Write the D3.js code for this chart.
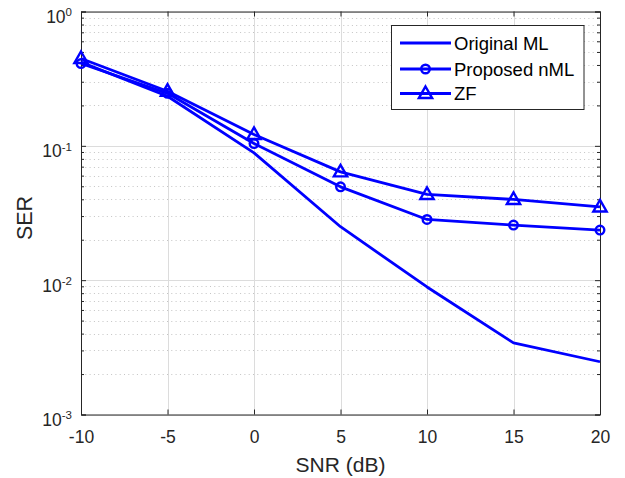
<!DOCTYPE html>
<html>
<head>
<meta charset="utf-8">
<script src="https://cdn.jsdelivr.net/npm/d3@7"></script>
<style>
  html, body { margin: 0; padding: 0; background: #fff; }
  svg { display: block; font-family: "Liberation Sans", Arial, Helvetica, sans-serif; }
</style>
</head>
<body>
<svg id="chart" width="625" height="478"></svg>
<script>
// SNR sweep (dB)
const snr = [-10, -5, 0, 5, 10, 15, 20];
// Symbol error rate for each detector
const serOriginalML = [0.42, 0.234, 0.0887, 0.0250, 0.0089, 0.00341, 0.00247];
const serProposedNML = [0.41, 0.246, 0.104, 0.0495, 0.0283, 0.0257, 0.0236];
const serZF = [0.447, 0.255, 0.1216, 0.064, 0.0435, 0.0399, 0.0351];
const seriesNames = ["Original ML", "Proposed nML", "ZF"];
const xTicks = [-10, -5, 0, 5, 10, 15, 20];
const yExponents = [0, -1, -2, -3];

const svg = d3.select("#chart");
const margin = { left: 81, right: 25, top: 11.5, bottom: 63.5 };
const W = 625, H = 478;
const x0 = margin.left, x1 = W - margin.right;
const y0 = H - margin.bottom, y1 = margin.top;

const x = d3.scaleLinear().domain([-10, 20]).range([x0, x1]);
const y = d3.scaleLog().domain([1e-3, 1]).range([y0, y1]);

const axisColor = "#262626";
const blue = "#0000ff";
const tickFont = 17.5;

// minor log values
const minor = [];
for (let e = -3; e < 0; e++) for (let m = 2; m <= 9; m++) minor.push(m * Math.pow(10, e));
const major = yExponents.map(e => Math.pow(10, e));

const grid = svg.append("g");
// minor dotted grid
grid.selectAll("line.minor").data(minor).join("line")
  .attr("x1", x0).attr("x2", x1)
  .attr("y1", d => Math.round(y(d)) + 0.5).attr("y2", d => Math.round(y(d)) + 0.5)
  .attr("stroke", "#c4c4c4").attr("stroke-width", 1).attr("stroke-dasharray", "1,3.3");
// major solid grid
grid.selectAll("line.majy").data(major).join("line")
  .attr("x1", x0).attr("x2", x1)
  .attr("y1", d => Math.round(y(d)) + 0.5).attr("y2", d => Math.round(y(d)) + 0.5)
  .attr("stroke", "#dcdcdc").attr("stroke-width", 1);
grid.selectAll("line.majx").data(xTicks).join("line")
  .attr("x1", d => Math.round(x(d)) + 0.5).attr("x2", d => Math.round(x(d)) + 0.5)
  .attr("y1", y0).attr("y2", y1)
  .attr("stroke", "#dcdcdc").attr("stroke-width", 1);

// axes (box with ticks on all sides)
const xb = d3.axisBottom(x).tickValues(xTicks).tickSize(-5).tickFormat(d => d);
const xt = d3.axisTop(x).tickValues(xTicks).tickSize(-5).tickFormat("");
const yl = d3.axisLeft(y).tickValues(major).tickSize(-5).tickFormat("");
const yr = d3.axisRight(y).tickValues(major).tickSize(-5).tickFormat("");
const ylm = d3.axisLeft(y).tickValues(minor).tickSize(-3).tickFormat("");
const yrm = d3.axisRight(y).tickValues(minor).tickSize(-3).tickFormat("");

function styleAxis(g) {
  g.selectAll("path.domain").attr("stroke", axisColor).attr("stroke-width", 1);
  g.selectAll(".tick line").attr("stroke", axisColor);
}
const gx = svg.append("g").attr("transform", `translate(0,${y0})`).call(xb).call(styleAxis);
gx.attr("font-size", tickFont).attr("font-family", "Liberation Sans, Arial, sans-serif");
gx.selectAll(".tick text").attr("fill", axisColor).attr("y", 28).attr("dy", 0);
svg.append("g").attr("transform", `translate(0,${y1})`).call(xt).call(styleAxis);
svg.append("g").attr("transform", `translate(${x0},0)`).call(ylm).call(styleAxis).select("path.domain").remove();
svg.append("g").attr("transform", `translate(${x1},0)`).call(yrm).call(styleAxis).select("path.domain").remove();
svg.append("g").attr("transform", `translate(${x0},0)`).call(yl).call(styleAxis);
svg.append("g").attr("transform", `translate(${x1},0)`).call(yr).call(styleAxis);

// y tick labels as 10^e, right edge kept at a fixed gap from the axis
const ylab = svg.append("g");
yExponents.forEach(e => {
  const t = ylab.append("text")
    .attr("x", 0).attr("y", y(Math.pow(10, e)) + 11.5)
    .attr("fill", axisColor).attr("font-size", tickFont);
  t.append("tspan").text("10");
  t.append("tspan").attr("dy", -6.8).attr("font-size", 11.5).text(String(e));
  const bb = t.node().getBBox();
  t.attr("x", (x0 - 9) - bb.width);
});

// axis titles
svg.append("text").attr("x", (x0 + x1) / 2).attr("y", 471.5)
  .attr("text-anchor", "middle").attr("fill", axisColor).attr("font-size", 21).text("SNR (dB)");
svg.append("text").attr("transform", `translate(31.5,218) rotate(-90)`)
  .attr("text-anchor", "middle").attr("fill", axisColor).attr("font-size", 21.5).text("SER");

// series
const series = [
  { name: seriesNames[0], values: serOriginalML, marker: "none" },
  { name: seriesNames[1], values: serProposedNML, marker: "circle" },
  { name: seriesNames[2], values: serZF, marker: "triangle" }
];
const line = d3.line().x(d => x(d[0])).y(d => y(d[1]));
const triPath = s => `M0,${-s}L${s * 0.95},${s * 0.65}L${-s * 0.95},${s * 0.65}Z`;

function drawMarker(g, type, cx, cy) {
  if (type === "circle") {
    g.append("circle").attr("cx", cx).attr("cy", cy).attr("r", 4.3)
      .attr("fill", "none").attr("stroke", blue).attr("stroke-width", 2.4);
  } else if (type === "triangle") {
    g.append("path").attr("d", triPath(7)).attr("transform", `translate(${cx},${cy})`)
      .attr("fill", "none").attr("stroke", blue).attr("stroke-width", 2.4).attr("stroke-linejoin", "miter");
  }
}

const plot = svg.append("g");
series.forEach(s => {
  const pts = snr.map((v, i) => [v, s.values[i]]);
  plot.append("path").attr("d", line(pts)).attr("fill", "none")
    .attr("stroke", blue).attr("stroke-width", 2.8).attr("stroke-linejoin", "round");
  pts.forEach(p => drawMarker(plot, s.marker, x(p[0]), y(p[1])));
});

// legend
const lg = svg.append("g");
lg.append("rect").attr("x", 391.5).attr("y", 25.5).attr("width", 192.5).attr("height", 84)
  .attr("fill", "#fff").attr("stroke", axisColor).attr("stroke-width", 1);
const rowsY = [43, 69, 93.5];
series.forEach((s, i) => {
  const yy = rowsY[i];
  lg.append("line").attr("x1", 400).attr("x2", 451).attr("y1", yy).attr("y2", yy)
    .attr("stroke", blue).attr("stroke-width", 2.8);
  drawMarker(lg, s.marker, 425.5, yy);
  lg.append("text").attr("x", 454).attr("y", yy + 6.5).attr("fill", "#000")
    .attr("font-size", 18.5).text(s.name);
});
</script>
</body>
</html>
